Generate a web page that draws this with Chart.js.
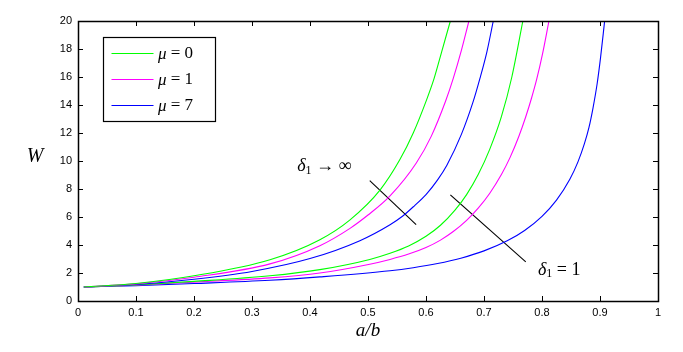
<!DOCTYPE html>
<html>
<head>
<meta charset="utf-8">
<script src="https://cdn.jsdelivr.net/npm/chart.js@4.4.1/dist/chart.umd.min.js"></script>
<style>
  html, body { margin: 0; padding: 0; background: #fff; }
  #wrap { width: 683px; height: 352px; }
</style>
</head>
<body>
<div id="wrap"><canvas id="plateChart" width="683" height="352"></canvas></div>
<script>
// tick labels
const xTickLabels = ["0", "0.1", "0.2", "0.3", "0.4", "0.5", "0.6", "0.7", "0.8", "0.9", "1"];
const yTickLabels = ["0", "2", "4", "6", "8", "10", "12", "14", "16", "18", "20"];

// delta1 -> infinity
const xMu0Inf = [0.01, 0.1, 0.2, 0.331, 0.417, 0.469, 0.521, 0.555, 0.578, 0.601, 0.614, 0.627, 0.642];
const wMu0Inf = [1, 1.25, 1.8, 2.95, 4.38, 5.8, 7.94, 10.1, 12.0, 14.37, 15.9, 17.8, 20];
const xMu1Inf = [0.01, 0.1, 0.2, 0.331, 0.417, 0.469, 0.5, 0.538, 0.583, 0.609, 0.634, 0.647, 0.661, 0.674];
const wMu1Inf = [1, 1.22, 1.7, 2.65, 3.95, 5.19, 6.14, 7.51, 9.84, 11.76, 14.3, 15.9, 17.9, 20];
const xMu7Inf = [0.01, 0.1, 0.2, 0.3, 0.4, 0.486, 0.538, 0.560, 0.580, 0.600, 0.620, 0.636, 0.661, 0.681, 0.693, 0.705, 0.716];
const wMu7Inf = [1, 1.18, 1.55, 2.11, 3.03, 4.31, 5.45, 6.07, 6.8, 7.6, 8.65, 9.7, 11.9, 14.2, 15.9, 17.8, 20];

// delta1 = 1
const xMu0One = [0.01, 0.1, 0.2, 0.331, 0.417, 0.503, 0.538, 0.570, 0.600, 0.625, 0.650, 0.670, 0.690, 0.710, 0.730, 0.748, 0.767];
const wMu0One = [1, 1.15, 1.4, 1.8, 2.24, 2.97, 3.41, 3.93, 4.62, 5.41, 6.49, 7.6, 9.03, 10.85, 13.17, 16.0, 20];
const xMu1One = [0.01, 0.1, 0.2, 0.331, 0.417, 0.503, 0.538, 0.570, 0.600, 0.625, 0.647, 0.670, 0.690, 0.710, 0.730, 0.745, 0.760, 0.772, 0.782, 0.791, 0.801, 0.812];
const wMu1One = [1, 1.13, 1.35, 1.65, 2.0, 2.63, 2.97, 3.35, 3.82, 4.35, 4.96, 5.76, 6.63, 7.7, 9.03, 10.26, 11.75, 13.16, 14.5, 15.86, 17.67, 20];
const xMu7One = [0.01, 0.1, 0.2, 0.331, 0.417, 0.538, 0.578, 0.620, 0.660, 0.700, 0.740, 0.770, 0.800, 0.825, 0.848, 0.862, 0.873, 0.881, 0.888, 0.895, 0.901, 0.908];
const wMu7One = [1, 1.1, 1.25, 1.48, 1.72, 2.16, 2.38, 2.68, 3.06, 3.58, 4.3, 5.04, 6.05, 7.21, 8.7, 9.94, 11.22, 12.4, 13.8, 15.5, 17.4, 20];

// pointer lines for the annotations
const xPtrInf = [0.503, 0.583];
const wPtrInf = [8.6, 5.46];
const xPtrOne = [0.642, 0.772];
const wPtrOne = [7.58, 2.8];

const muLabels = ["0", "1", "7"];
const muColors = ["#00ff00", "#ff00ff", "#0000ff"];

function pts(xs, ys) {
    return xs.map((x, i) => ({ x: x, y: ys[i] }));
}

function curve(xs, ys, color, label) {
    return {
        label: label,
        data: pts(xs, ys),
        borderColor: color,
        backgroundColor: color,
        borderWidth: 1.1,
        pointRadius: 0,
        fill: false,
        showLine: true,
        cubicInterpolationMode: "monotone"
    };
}

const datasets = [
    curve(xMu0Inf, wMu0Inf, muColors[0], "mu0"),
    curve(xMu1Inf, wMu1Inf, muColors[1], "mu1"),
    curve(xMu7Inf, wMu7Inf, muColors[2], "mu7"),
    curve(xMu0One, wMu0One, muColors[0], "mu0b"),
    curve(xMu1One, wMu1One, muColors[1], "mu1b"),
    curve(xMu7One, wMu7One, muColors[2], "mu7b"),
    curve(xPtrInf, wPtrInf, "#000000", "ptr1"),
    curve(xPtrOne, wPtrOne, "#000000", "ptr2")
];

const SERIF = "'Liberation Serif', 'DejaVu Serif', serif";

// delta_1 with subscript, followed by the rest
function drawDelta(ctx, x, y, rest) {
    ctx.font = "italic 18px " + SERIF;
    ctx.fillText("δ", x, y);
    let w = ctx.measureText("δ").width;
    ctx.font = "12px " + SERIF;
    ctx.fillText("1", x + w, y + 4);
    w += ctx.measureText("1").width;
    ctx.font = "18px " + SERIF;
    ctx.fillText(rest, x + w, y);
}

const decorPlugin = {
    id: "decor",
    afterDatasetsDraw(chart) {
        const ctx = chart.ctx;
        const a = chart.chartArea;
        const xs = chart.scales.x;
        const ys = chart.scales.y;
        ctx.save();
        ctx.strokeStyle = "#000";
        ctx.lineWidth = 1;

        // inward ticks, also on top and right
        const tl = 5;
        ctx.beginPath();
        xTickLabels.forEach((t, i) => {
            const px = Math.round(xs.getPixelForValue(i / 10)) + 0.5;
            ctx.moveTo(px, a.bottom); ctx.lineTo(px, a.bottom - tl);
            ctx.moveTo(px, a.top); ctx.lineTo(px, a.top + tl);
        });
        yTickLabels.forEach((t, i) => {
            const py = Math.round(ys.getPixelForValue(i * 2)) + 0.5;
            ctx.moveTo(a.left, py); ctx.lineTo(a.left + tl, py);
            ctx.moveTo(a.right, py); ctx.lineTo(a.right - tl, py);
        });
        ctx.stroke();

        // box
        ctx.lineWidth = 1.5;
        ctx.strokeRect(Math.round(a.left) + 0.5, Math.round(a.top) + 0.5,
            Math.round(a.right - a.left), Math.round(a.bottom - a.top));

        // legend
        const lx = 103.5, ly = 37.5, lw = 112, lh = 84;
        ctx.fillStyle = "#fff";
        ctx.fillRect(lx, ly, lw, lh);
        ctx.lineWidth = 1.2;
        ctx.strokeRect(lx, ly, lw, lh);
        const rows = [53.5, 79.5, 105.5];
        muLabels.forEach((m, i) => {
            ctx.strokeStyle = muColors[i];
            ctx.lineWidth = 1.1;
            ctx.beginPath();
            ctx.moveTo(111.5, rows[i]);
            ctx.lineTo(153.5, rows[i]);
            ctx.stroke();
            ctx.fillStyle = "#000";
            ctx.textBaseline = "middle";
            ctx.textAlign = "left";
            ctx.font = "italic 17px " + SERIF;
            ctx.fillText("μ", 158, rows[i] + 1);
            const w = ctx.measureText("μ").width;
            ctx.font = "17px " + SERIF;
            ctx.fillText(" = " + m, 158 + w, rows[i]);
        });

        // annotations
        ctx.fillStyle = "#000";
        ctx.textBaseline = "middle";
        ctx.textAlign = "left";
        drawDelta(ctx, xs.getPixelForValue(0.378), ys.getPixelForValue(9.6), " → ∞");
        drawDelta(ctx, xs.getPixelForValue(0.793), ys.getPixelForValue(2.2), " = 1");

        // axis titles
        ctx.font = "italic 20px " + SERIF;
        ctx.textAlign = "center";
        ctx.fillText("W", 35, 157);
        ctx.font = "italic 19px " + SERIF;
        ctx.fillText("a/b", (a.left + a.right) / 2, 331);
        ctx.restore();
    }
};

const tickFont = { family: "'Liberation Sans', Arial, sans-serif", size: 11 };

window.chart1 = new Chart(document.getElementById("plateChart").getContext("2d"), {
    type: "scatter",
    data: { datasets: datasets },
    options: {
        responsive: false,
        animation: false,
        layout: { padding: { top: 21, right: 25, left: 0, bottom: 0 } },
        scales: {
            x: {
                type: "linear",
                min: 0,
                max: 1,
                afterFit: (s) => { s.height = 51; },
                afterBuildTicks: (s) => { s.ticks = xTickLabels.map((t, i) => ({ value: i / 10 })); },
                ticks: {
                    callback: (v, i) => xTickLabels[i],
                    color: "#000",
                    font: tickFont,
                    padding: 5,
                    maxRotation: 0,
                    autoSkip: false
                },
                grid: { display: false, drawTicks: false },
                border: { display: false }
            },
            y: {
                type: "linear",
                min: 0,
                max: 20,
                afterFit: (s) => { s.width = 78; },
                afterBuildTicks: (s) => { s.ticks = yTickLabels.map((t, i) => ({ value: i * 2 })); },
                ticks: {
                    callback: (v, i) => yTickLabels[i],
                    color: "#000",
                    font: tickFont,
                    padding: 6,
                    autoSkip: false
                },
                grid: { display: false, drawTicks: false },
                border: { display: false }
            }
        },
        plugins: {
            legend: { display: false },
            tooltip: { enabled: false }
        }
    },
    plugins: [decorPlugin]
});
</script>
</body>
</html>
